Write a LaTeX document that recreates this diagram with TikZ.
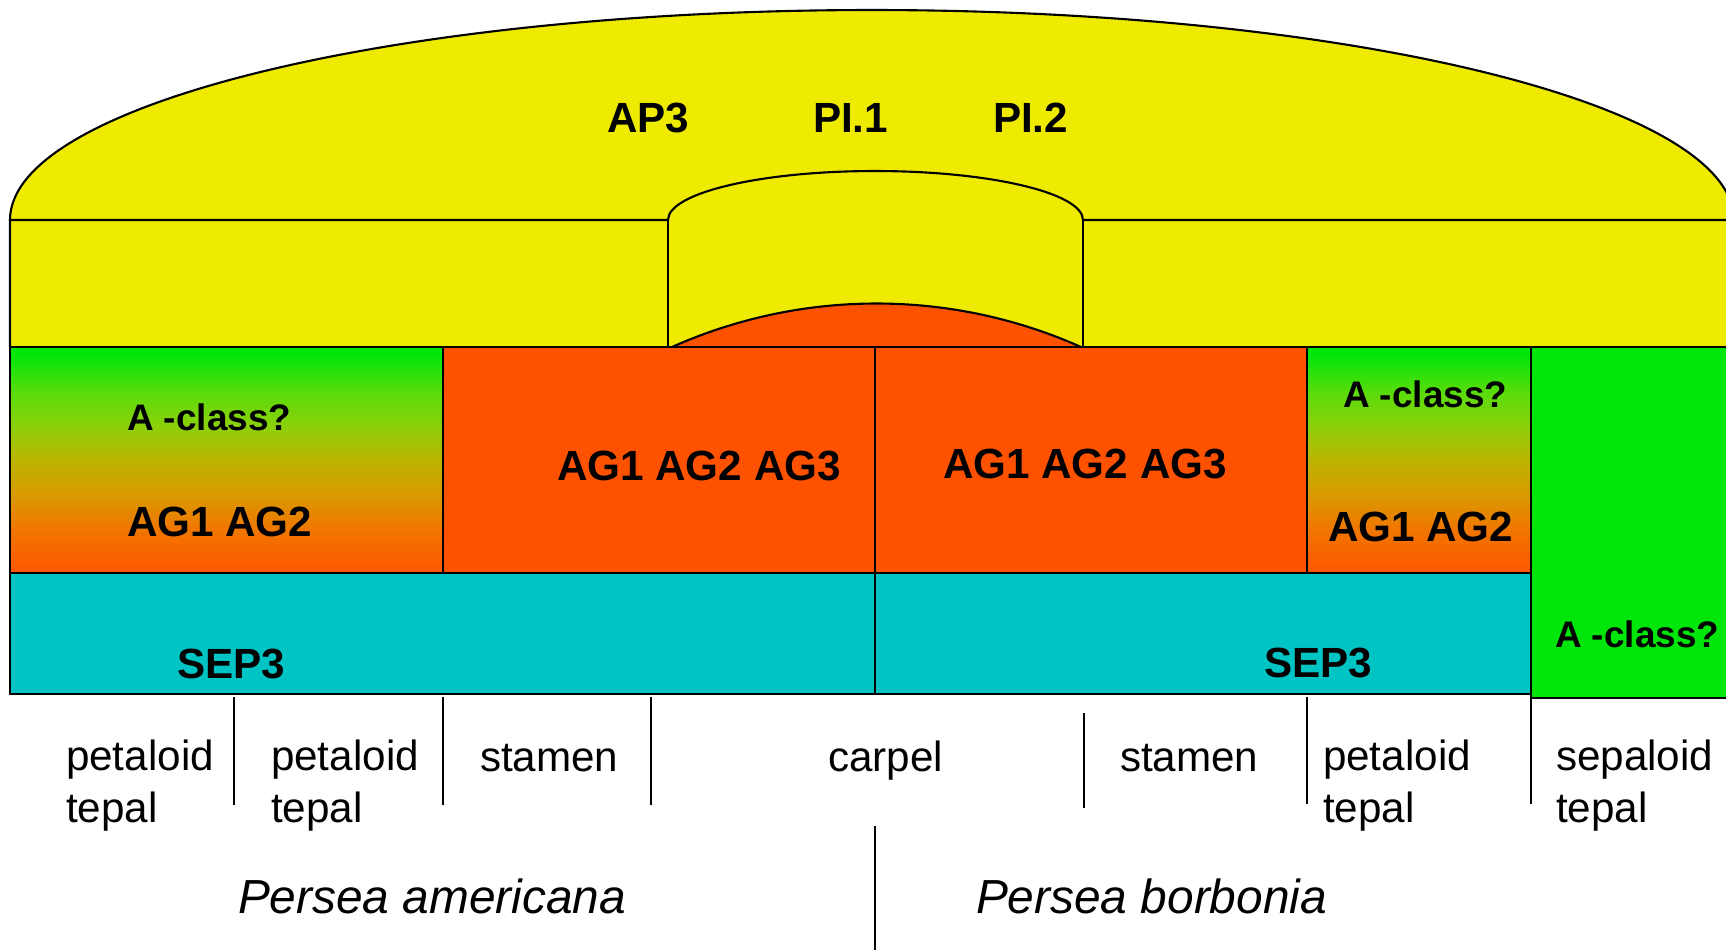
\documentclass[tikz,border=0pt]{standalone}
\usepackage{fontspec}
\setmainfont{Liberation Sans}

\definecolor{amarillo}{HTML}{EEEA00}
\definecolor{naranja}{HTML}{FF5200}
\definecolor{cian}{HTML}{00C4C4}
\definecolor{verde}{HTML}{00E60A}
\definecolor{g0}{HTML}{FF5500}
\definecolor{g1}{HTML}{F07800}
\definecolor{g2}{HTML}{D89A00}
\definecolor{g3}{HTML}{BCB400}
\definecolor{g4}{HTML}{8CD00A}
\definecolor{g5}{HTML}{5ADC0A}
% tramo visible de la sombra: 25bp (abajo) a 75bp (arriba)
\pgfdeclareverticalshading{mezcla}{100bp}{color(0bp)=(g0); color(25bp)=(g0);
  color(35bp)=(g1); color(42.5bp)=(g2); color(50bp)=(g3); color(57.5bp)=(g4);
  color(65bp)=(g5); color(73.5bp)=(verde); color(100bp)=(verde)}

\begin{document}
\begin{tikzpicture}[x=0.01cm, y=-0.01cm, line width=0.6pt,
  gen/.style={font=\bfseries\fontsize{12}{14}\selectfont, inner sep=0pt, anchor=base west},
  clase/.style={font=\bfseries\fontsize{10.5}{12}\selectfont, inner sep=0pt, anchor=base west},
  organo/.style={font=\fontsize{12}{14.6}\selectfont, inner sep=0pt, anchor=base west, align=left},
  especie/.style={font=\itshape\fontsize{13.6}{16}\selectfont, inner sep=0pt, anchor=base west}]
  % marco: 1 unidad = 1 px de la figura (y hacia abajo)
  \clip (0,0) rectangle (1726,950);
  % arco exterior B (AP3, PI)
  \fill[amarillo] (10,347) -- (10,220) .. controls (10,104) and (396,10) .. (872,10)
    .. controls (1348,10) and (1734,104) .. (1734,220) -- (1734,347) -- cycle;
  \draw (10,220) .. controls (10,104) and (396,10) .. (872,10)
    .. controls (1348,10) and (1734,104) .. (1734,220);
  % banda con el arco interior
  \draw (10,347) -- (10,220) -- (668,220) .. controls (668,193) and (760,171) .. (875,171)
    .. controls (990,171) and (1083,193) .. (1083,220) -- (1734,220);
  \draw (668,220) -- (668,347) (1083,220) -- (1083,347);
  % cupula C
  \filldraw[fill=naranja] (672,347) .. controls (802,289) and (951,289) .. (1081,347);
  % fila C
  \shade[shading=mezcla] (10,347) rectangle (443,573);
  \draw (10,347) rectangle (443,573);
  \filldraw[fill=naranja] (443,347) rectangle (875,573);
  \filldraw[fill=naranja] (875,347) rectangle (1307,573);
  \shade[shading=mezcla] (1307,347) rectangle (1531,573);
  \draw (1307,347) rectangle (1531,573);
  \filldraw[fill=verde] (1531,347) rectangle (1740,698);
  % fila E
  \filldraw[fill=cian] (10,573) rectangle (875,694);
  \filldraw[fill=cian] (875,573) rectangle (1531,694);
  % separadores de organos
  \draw[line width=0.4pt] (234,697) -- (234,805) (443,697) -- (443,805)
    (651,697) -- (651,805) (1084,713) -- (1084,808) (1307,697) -- (1307,804)
    (1531,698) -- (1531,804) (875,826) -- (875,950);
  % genes
  \node[gen] (ap3) at (606,132) {AP3};
  \node[gen] (pi1) at (812,132) {PI.1};
  \node[gen] (pi2) at (992,132) {PI.2};
  \node[clase] (aclA) at (126,430) {A -class?};
  \node[gen] (agA) at (126,536) {AG1 AG2};
  \node[gen] (agB) at (556,480) {AG1 AG2 AG3};
  \node[gen] (agC) at (942,478) {AG1 AG2 AG3};
  \node[clase] (aclD) at (1342,407) {A -class?};
  \node[gen] (agD) at (1327,541) {AG1 AG2};
  \node[clase] (aclE) at (1554,647) {A -class?};
  \node[gen] (sepA) at (176,678) {SEP3};
  \node[gen] (sepB) at (1263,677) {SEP3};
  % organos (base = ultima linea)
  \node[organo] (o1) at (65,822) {petaloid\\tepal};
  \node[organo] (o2) at (270,822) {petaloid\\tepal};
  \node[organo] (o3) at (479,771) {stamen};
  \node[organo] (o4) at (827,771) {carpel};
  \node[organo] (o5) at (1119,771) {stamen};
  \node[organo] (o6) at (1322,822) {petaloid\\tepal};
  \node[organo] (o7) at (1555,822) {sepaloid\\tepal};
  % especies
  \node[especie] (pam) at (237,913) {Persea americana};
  \node[especie] (pbo) at (975,913) {Persea borbonia};
\end{tikzpicture}
\end{document}
